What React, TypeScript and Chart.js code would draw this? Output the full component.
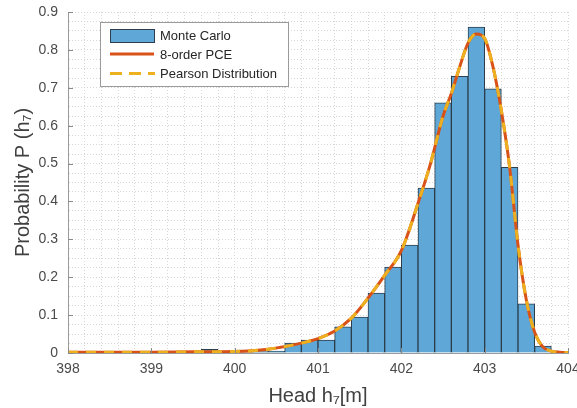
import { useEffect, useRef } from "react";
import { Chart, registerables } from "chart.js";

Chart.register(...registerables);

// Histogram bins (centres, bin width 0.2 m) and Monte Carlo densities
const binCenters = [399.7, 399.9, 400.1, 400.3, 400.5, 400.7, 400.9, 401.1, 401.3, 401.5, 401.7, 401.9, 402.1, 402.3, 402.5, 402.7, 402.9, 403.1, 403.3, 403.5, 403.7];
const monteCarlo = [0.01, 0.002, 0.008, 0.004, 0.005, 0.026, 0.034, 0.034, 0.069, 0.095, 0.158, 0.227, 0.285, 0.435, 0.66, 0.73, 0.86, 0.697, 0.49, 0.13, 0.018];

// Fitted density curves
const curveX = [398, 398.5, 399, 399.5, 400, 400.4, 400.8, 401, 401.2, 401.4, 401.6, 401.8, 402, 402.2, 402.35, 402.5, 402.6, 402.7, 402.8, 402.9, 403, 403.1, 403.2, 403.3, 403.4, 403.5, 403.6, 403.7, 403.8, 403.9, 404];
const pceY = [0.002, 0.002, 0.002, 0.003, 0.004, 0.01, 0.026, 0.038, 0.058, 0.092, 0.145, 0.205, 0.27, 0.395, 0.5, 0.625, 0.685, 0.755, 0.818, 0.842, 0.83, 0.755, 0.64, 0.49, 0.285, 0.14, 0.055, 0.016, 0.005, 0.002, 0.001];
const pearsonY = [0.002, 0.002, 0.002, 0.003, 0.004, 0.01, 0.026, 0.038, 0.058, 0.092, 0.145, 0.205, 0.27, 0.395, 0.5, 0.625, 0.685, 0.755, 0.818, 0.842, 0.83, 0.755, 0.64, 0.49, 0.285, 0.14, 0.055, 0.016, 0.005, 0.002, 0.001];

const xTickLabels = ["398", "399", "400", "401", "402", "403", "404"];
const yTickLabels = ["0", "0.1", "0.2", "0.3", "0.4", "0.5", "0.6", "0.7", "0.8", "0.9"];
const seriesNames = ["Monte Carlo", "8-order PCE", "Pearson Distribution"];

const FONT = "'Liberation Sans', Arial, sans-serif";
const BAR_FILL = "#5fa7d7";
const BAR_EDGE = "#2c3e4c";
const PCE_COLOR = "#d95319";
const PEARSON_COLOR = "#edb120";

const legendPlugin = {
  id: "boxLegend",
  afterDraw(chart: any) {
    const ctx = chart.ctx;
    ctx.save();
    ctx.fillStyle = "#ffffff";
    ctx.strokeStyle = "#9a9a9a";
    ctx.lineWidth = 1;
    ctx.fillRect(100.5, 22.5, 188, 64);
    ctx.strokeRect(100.5, 22.5, 188, 64);
    ctx.fillStyle = BAR_FILL;
    ctx.fillRect(110.5, 29.5, 44, 13);
    ctx.strokeStyle = BAR_EDGE;
    ctx.strokeRect(110.5, 29.5, 44, 13);
    ctx.strokeStyle = PCE_COLOR;
    ctx.lineWidth = 3;
    ctx.beginPath();
    ctx.moveTo(110, 54);
    ctx.lineTo(154, 54);
    ctx.stroke();
    ctx.strokeStyle = PEARSON_COLOR;
    ctx.setLineDash([12, 7]);
    ctx.beginPath();
    ctx.moveTo(110, 73.5);
    ctx.lineTo(155, 73.5);
    ctx.stroke();
    ctx.setLineDash([]);
    ctx.fillStyle = "#262626";
    ctx.font = `13px ${FONT}`;
    ctx.textBaseline = "middle";
    ctx.textAlign = "left";
    ctx.fillText(seriesNames[0], 160, 36);
    ctx.fillText(seriesNames[1], 160, 55);
    ctx.fillText(seriesNames[2], 160, 74);
    ctx.restore();
  },
};

const inwardTicks = {
  id: "inwardTicks",
  afterDatasetsDraw(chart: any) {
    const ctx = chart.ctx;
    const xs = chart.scales.x;
    const ys = chart.scales.y;
    const area = chart.chartArea;
    ctx.save();
    ctx.strokeStyle = "#8a8a8a";
    ctx.lineWidth = 1;
    ctx.beginPath();
    xTickLabels.forEach((l) => {
      const px = Math.round(xs.getPixelForValue(parseFloat(l))) + 0.5;
      ctx.moveTo(px, area.bottom);
      ctx.lineTo(px, area.bottom - 5);
    });
    yTickLabels.forEach((l) => {
      const py = Math.round(ys.getPixelForValue(parseFloat(l))) + 0.5;
      ctx.moveTo(area.left, py);
      ctx.lineTo(area.left + 5, py);
    });
    ctx.stroke();
    ctx.restore();
  },
};

function labelFor(v: number, labels: string[], base: number, step: number) {
  const k = (v - base) / step;
  const r = Math.round(k);
  if (Math.abs(k - r) < 1e-6 && r >= 0 && r < labels.length) return labels[r];
  return "";
}

export default function App() {
  const ref = useRef<HTMLCanvasElement | null>(null);

  useEffect(() => {
    if (!ref.current) return;
    const chart = new Chart(ref.current, {
      type: "bar",
      data: {
        datasets: [
          {
            type: "bar",
            label: seriesNames[0],
            data: binCenters.map((x, i) => ({ x, y: monteCarlo[i] })) as any,
            backgroundColor: BAR_FILL,
            borderColor: BAR_EDGE,
            borderWidth: 1,
            barPercentage: 1,
            categoryPercentage: 1,
            order: 3,
          },
          {
            type: "line",
            label: seriesNames[1],
            data: curveX.map((x, i) => ({ x, y: pceY[i] })) as any,
            borderColor: PCE_COLOR,
            borderWidth: 3,
            pointRadius: 0,
            cubicInterpolationMode: "monotone",
            order: 2,
          },
          {
            type: "line",
            label: seriesNames[2],
            data: curveX.map((x, i) => ({ x, y: pearsonY[i] })) as any,
            borderColor: PEARSON_COLOR,
            borderWidth: 3,
            borderDash: [10, 8],
            pointRadius: 0,
            cubicInterpolationMode: "monotone",
            order: 1,
          },
        ],
      },
      options: {
        animation: false,
        responsive: true,
        maintainAspectRatio: false,
        layout: { padding: { top: 12, right: 9, left: 0, bottom: 0 } },
        plugins: { legend: { display: false }, tooltip: { enabled: false } },
        scales: {
          x: {
            type: "linear",
            min: 398,
            max: 404,
            offset: false,
            grid: { offset: false, color: "#d6d6d6", lineWidth: 1, drawTicks: false },
            border: { display: true, color: "#9a9a9a", width: 1, dash: [1, 2] },
            ticks: {
              stepSize: 0.2,
              autoSkip: false,
              maxRotation: 0,
              padding: 8,
              color: "#4a4a4a",
              font: { family: FONT, size: 14 },
              callback: (v: any) => labelFor(Number(v), xTickLabels, 398, 1),
            },
            title: {
              display: true,
              text: "Head h₇[m]",
              color: "#404040",
              font: { family: FONT, size: 20 },
              padding: { top: 3, bottom: 0 },
            },
            afterFit: (s: any) => {
              s.height = 55;
              s.paddingLeft = 0;
              s.paddingRight = 0;
            },
          },
          y: {
            type: "linear",
            min: 0,
            max: 0.9,
            grid: { color: "#d6d6d6", lineWidth: 1, drawTicks: false },
            border: { display: true, color: "#9a9a9a", width: 1, dash: [1, 2] },
            ticks: {
              stepSize: 0.025,
              autoSkip: false,
              padding: 10,
              color: "#4a4a4a",
              font: { family: FONT, size: 14 },
              callback: (v: any) => labelFor(Number(v), yTickLabels, 0, 0.1),
            },
            title: {
              display: true,
              text: "Probability P (h₇)",
              color: "#404040",
              font: { family: FONT, size: 20 },
              padding: { top: 11, bottom: 0 },
            },
            afterFit: (s: any) => {
              s.width = 68;
              s.paddingTop = 0;
              s.paddingBottom = 0;
            },
          },
        },
      },
      plugins: [inwardTicks, legendPlugin],
    });
    return () => chart.destroy();
  }, []);

  return (
    <div style={{ position: "fixed", left: 0, top: 0, width: 577, height: 408, background: "#fff" }}>
      <canvas ref={ref} />
    </div>
  );
}
